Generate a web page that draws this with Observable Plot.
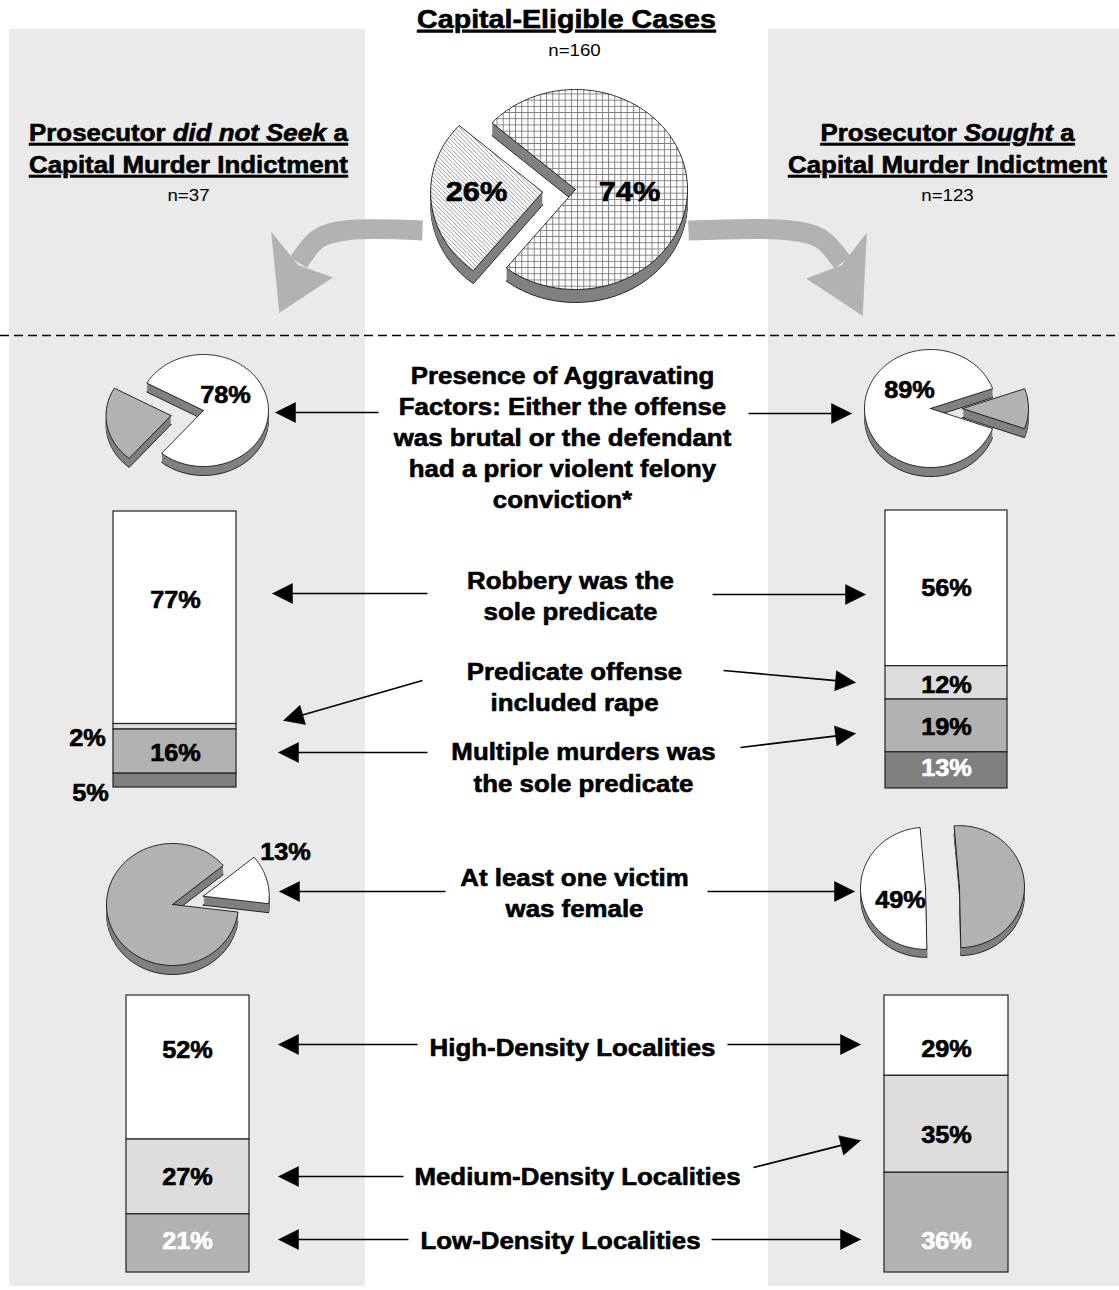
<!DOCTYPE html>
<html>
<head>
<meta charset="utf-8">
<script src="https://cdn.jsdelivr.net/npm/d3@7"></script>
<script src="https://cdn.jsdelivr.net/npm/@observablehq/plot@0.6"></script>
<style>
  body { margin: 0; background: #fff; }
  #chart svg { display: block; }
</style>
</head>
<body>
<div id="chart"></div>
<script>
// ---------------- DATA ----------------
const totalCases = 160;
const nNotSought = 37;
const nSought = 123;

const decisionLabels = ["Sought", "Did not seek"];
const decisionPct = [74, 26];

const aggravatingLabels = ["Aggravating factors present", "Not present"];
const aggravatingNotSought = [78, 22];
const aggravatingSought = [89, 11];

const predicateLabels = ["Robbery was the sole predicate", "Predicate offense included rape", "Multiple murders was the sole predicate", "Other"];
const predicateNotSought = [77, 2, 16, 5];
const predicateSought = [56, 12, 19, 13];

const femaleLabels = ["At least one victim was female", "No female victim"];
const femaleNotSought = [13, 87];
const femaleSought = [49, 51];

const densityLabels = ["High-Density Localities", "Medium-Density Localities", "Low-Density Localities"];
const densityNotSought = [52, 27, 21];
const densitySought = [29, 35, 36];

// ---------------- LAYOUT ----------------
const W = 1119, H = 1290, S = 1.1;
const FONT = "Liberation Sans, Arial, Helvetica, sans-serif";
const BG = "#eaeaea", WHITE = "#ffffff", LIGHT = "#dddddd", MID = "#b2b2b2", DARK = "#808080";
const BOLD_STROKE = 0.6;

const panels = [
  {x1: 9, x2: 365, y1: 29, y2: 1286},
  {x1: 768, x2: 1119, y1: 29, y2: 1286}
];

const pies = [
  {values: decisionPct, cx: 575, cy: 189, rx: 112, ry: 100, depth: 13, start: 311.8, explode: [0, 33], fills: ["url(#grid)", "url(#diag)"],
   labels: [{x: 629, y: 192}, {x: 476, y: 192}], size: 28},
  {values: aggravatingNotSought, cx: 203, cy: 410, rx: 65, ry: 56, depth: 9, start: 299.3, explode: [0, 33], fills: [WHITE, MID],
   labels: [{x: 225, y: 395}, null], size: 23},
  {values: aggravatingSought, cx: 930, cy: 408, rx: 66, ry: 59, depth: 9, start: 109.95, explode: [0, 32], fills: [WHITE, MID],
   labels: [{x: 909, y: 390}, null], size: 23},
  {values: femaleNotSought, cx: 172, cy: 904, rx: 66, ry: 61, depth: 9, start: 50.3, explode: [32, 0], fills: [WHITE, MID],
   labels: [{x: 285, y: 852}, null], size: 23},
  {values: femaleSought, cx: 942, cy: 887, rx: 65, ry: 61, depth: 8, start: 178.8, explode: [17, 17], fills: [WHITE, MID],
   labels: [{x: 900, y: 900}, null], size: 23}
];

const bars = [
  {values: predicateNotSought, x1: 113, x2: 236, y1: 511, y2: 787, fills: [WHITE, LIGHT, MID, DARK],
   labels: [{x: 175, y: 600}, {x: 87, y: 738}, {x: 175, y: 753}, {x: 90, y: 793}], colors: ["#000", "#000", "#000", "#000"]},
  {values: predicateSought, x1: 885, x2: 1007, y1: 510, y2: 788, fills: [WHITE, LIGHT, MID, DARK],
   labels: [{x: 946, y: 588}, {x: 946, y: 685}, {x: 946, y: 727}, {x: 946, y: 768}], colors: ["#000", "#000", "#000", "#fff"]},
  {values: densityNotSought, x1: 126, x2: 249, y1: 995, y2: 1272, fills: [WHITE, LIGHT, MID],
   labels: [{x: 187, y: 1050}, {x: 187, y: 1177}, {x: 187, y: 1241}], colors: ["#000", "#000", "#fff"]},
  {values: densitySought, x1: 884, x2: 1008, y1: 995, y2: 1272, fills: [WHITE, LIGHT, MID],
   labels: [{x: 946, y: 1049}, {x: 946, y: 1135}, {x: 946, y: 1241}], colors: ["#000", "#000", "#fff"]}
];

const centerLines = [
  {t: "Presence of Aggravating", x: 562, y: 376},
  {t: "Factors: Either the offense", x: 562, y: 407},
  {t: "was brutal or the defendant", x: 562, y: 438},
  {t: "had a prior violent felony", x: 562, y: 469},
  {t: "conviction*", x: 562, y: 500},
  {t: "Robbery was the", x: 570, y: 581},
  {t: "sole predicate", x: 570, y: 612},
  {t: "Predicate offense", x: 574, y: 672},
  {t: "included rape", x: 574, y: 703},
  {t: "Multiple murders was", x: 583, y: 752},
  {t: "the sole predicate", x: 583, y: 784},
  {t: "At least one victim", x: 574, y: 878},
  {t: "was female", x: 574, y: 909},
  {t: densityLabels[0], x: 572, y: 1048},
  {t: densityLabels[1], x: 577, y: 1177},
  {t: densityLabels[2], x: 560, y: 1241}
];

const thinArrows = [
  {x1: 378, y1: 412, x2: 275, y2: 412}, {x1: 748, y1: 413, x2: 851, y2: 413},
  {x1: 427, y1: 593, x2: 272, y2: 593}, {x1: 712, y1: 594, x2: 865, y2: 594},
  {x1: 422, y1: 680, x2: 283, y2: 720}, {x1: 723, y1: 670, x2: 855, y2: 682},
  {x1: 427, y1: 752, x2: 278, y2: 752}, {x1: 740, y1: 747, x2: 855, y2: 733},
  {x1: 445, y1: 891, x2: 279, y2: 891}, {x1: 707, y1: 891, x2: 854, y2: 891},
  {x1: 417, y1: 1044, x2: 278, y2: 1044}, {x1: 727, y1: 1044, x2: 860, y2: 1044},
  {x1: 403, y1: 1176, x2: 278, y2: 1176}, {x1: 753, y1: 1167, x2: 860, y2: 1140},
  {x1: 408, y1: 1239, x2: 278, y2: 1239}, {x1: 711, y1: 1239, x2: 860, y2: 1239}
];

const bigArrows = [
  {shaft: [[422, 230], [345, 230], [318, 238], [298, 262]],
   head: [[279, 312], [271, 232], [298, 265], [332, 277], [279, 312]]},
  {shaft: [[688, 230], [790, 230], [820, 238], [842, 262]],
   head: [[862, 315], [866, 233], [841, 265], [806, 278], [862, 315]]}
];

// ---------------- GEOMETRY ----------------
const rad = Math.PI / 180;
const rimRows = [], sideRows = [], faces = [], pieLabels = [];
pies.forEach((p, pi) => {
  const sum = d3.sum(p.values);
  let a = p.start;
  p.values.forEach((v, si) => {
    const span = v / sum * 360, a0 = a, a1 = a + span;
    a = a1;
    const mid = (a0 + a1) / 2 * rad, e = p.explode[si];
    const ox = e * Math.sin(mid), oy = -e * Math.cos(mid) * p.ry / p.rx;
    const pts = [[p.cx + ox, p.cy + oy]];
    const n = Math.max(3, Math.ceil(span / 2));
    for (let k = 0; k <= n; k++) {
      const t = (a0 + (a1 - a0) * k / n) * rad;
      pts.push([p.cx + ox + p.rx * Math.sin(t), p.cy + oy - p.ry * Math.cos(t)]);
    }
    pts.push(pts[0]);
    const id = `p${pi}s${si}`;
    for (let d = p.depth; d >= 1; d--) {
      const target = d === p.depth ? rimRows : sideRows;
      pts.forEach(([x, y]) => target.push({id: id + "d" + d, x, y: y + d}));
    }
    faces.push({pts, fill: p.fills[si]});
    if (p.labels[si]) pieLabels.push({...p.labels[si], t: v + "%", size: p.size});
  });
});

const barRects = [], barLabels = [];
bars.forEach(b => {
  const sum = d3.sum(b.values);
  const yScale = d3.scaleLinear([0, sum], [b.y1, b.y2]);
  let c = 0;
  b.values.forEach((v, i) => {
    barRects.push({x1: b.x1, x2: b.x2, y1: yScale(c), y2: yScale(c + v), fill: b.fills[i]});
    c += v;
    barLabels.push({...b.labels[i], t: v + "%", color: b.colors[i]});
  });
});

const shafts = [], heads = [];
thinArrows.forEach((a, i) => {
  const dx = a.x2 - a.x1, dy = a.y2 - a.y1, L = Math.hypot(dx, dy), ux = dx / L, uy = dy / L;
  const hl = 20, hw = 10, bx = a.x2 - ux * hl, by = a.y2 - uy * hl;
  shafts.push({x1: a.x1, y1: a.y1, x2: bx + ux * 3, y2: by + uy * 3});
  [[a.x2, a.y2], [bx - uy * hw, by + ux * hw], [bx + uy * hw, by - ux * hw], [a.x2, a.y2]]
    .forEach(([x, y]) => heads.push({id: i, x, y}));
});

const headerTexts = [
  {t: "Capital-Eligible Cases", x: 566, y: 19, size: 26, weight: "bold"},
  {t: "n=" + totalCases, x: 574, y: 50, size: 17, weight: "normal"},
  {t: "Prosecutor did not Seek a", x: 188, y: 133, size: 23.5, weight: "bold"},
  {t: "Capital Murder Indictment", x: 188, y: 165, size: 23.5, weight: "bold"},
  {t: "n=" + nNotSought, x: 188, y: 195, size: 17, weight: "normal"},
  {t: "Prosecutor Sought a", x: 947, y: 133, size: 23.5, weight: "bold"},
  {t: "Capital Murder Indictment", x: 947, y: 165, size: 23.5, weight: "bold"},
  {t: "n=" + nSought, x: 947, y: 195, size: 17, weight: "normal"}
];

// ---------------- MARKS ----------------
const marks = [];
marks.push(Plot.rect(panels, {x1: "x1", x2: "x2", y1: "y1", y2: "y2", fill: BG}));
marks.push(Plot.ruleY([{y: 335, x1: 0, x2: W}], {y: "y", x1: "x1", x2: "x2", stroke: "#000", strokeWidth: 1.4, strokeDasharray: "9,5"}));

bigArrows.forEach(b => {
  marks.push(Plot.line(b.shaft, {x: d => d[0], y: d => d[1], curve: "catmull-rom", stroke: MID, strokeWidth: 20, strokeLinecap: "butt", fill: "none"}));
  marks.push(Plot.line(b.head, {x: d => d[0], y: d => d[1], fill: MID, stroke: MID, strokeWidth: 0.5}));
});

marks.push(Plot.line(rimRows, {x: "x", y: "y", z: "id", fill: DARK, stroke: "#000", strokeWidth: 0.8}));
marks.push(Plot.line(sideRows, {x: "x", y: "y", z: "id", fill: DARK, stroke: "none"}));
faces.forEach(f => marks.push(Plot.line(f.pts, {x: d => d[0], y: d => d[1], fill: f.fill, stroke: "#000", strokeWidth: 0.8})));

marks.push(Plot.rect(barRects, {x1: "x1", x2: "x2", y1: "y1", y2: "y2", fill: "fill", stroke: "#222", strokeWidth: 1.2}));

marks.push(Plot.link(shafts, {x1: "x1", y1: "y1", x2: "x2", y2: "y2", stroke: "#000", strokeWidth: 1.7}));
marks.push(Plot.line(heads, {x: "x", y: "y", z: "id", fill: "#000", stroke: "#000", strokeWidth: 0.5}));

const boldText = (data, size, extra = {}) => Plot.text(data, {x: "x", y: "y", text: "t", fontSize: size, fontWeight: "bold", fontFamily: FONT,
  fill: "#000", stroke: "#000", strokeWidth: BOLD_STROKE, ...extra});

headerTexts.forEach(h => marks.push(h.weight === "bold"
  ? boldText([h], h.size)
  : Plot.text([h], {x: "x", y: "y", text: "t", fontSize: h.size, fontFamily: FONT, fill: "#000"})));
marks.push(boldText(centerLines, 23.5));
marks.push(boldText(pieLabels.filter(d => d.size > 24), 28));
marks.push(boldText(pieLabels.filter(d => d.size <= 24), 23));
marks.push(boldText(barLabels, 23, {fill: "color", stroke: "color"}));

const svg = Plot.plot({
  width: W, height: H, margin: 0,
  x: {domain: [0, W], range: [0, W], axis: null},
  y: {domain: [0, H], range: [0, H], axis: null},
  color: {type: "identity"},
  style: {background: "#fff", fontFamily: FONT},
  marks
});
document.getElementById("chart").append(svg);

// ---------------- PATTERNS & TEXT STYLING ----------------
const defs = d3.select(svg).insert("defs", ":first-child");
const grid = defs.append("pattern").attr("id", "grid").attr("patternUnits", "userSpaceOnUse").attr("width", 6.2).attr("height", 6.2);
grid.append("rect").attr("width", 6.2).attr("height", 6.2).attr("fill", "#fff");
grid.append("path").attr("d", "M0,0.5H6.2M0.5,0V6.2").attr("stroke", "#7a7a7a").attr("stroke-width", 0.9).attr("fill", "none");
const diag = defs.append("pattern").attr("id", "diag").attr("patternUnits", "userSpaceOnUse").attr("width", 4.2).attr("height", 4.2);
diag.append("rect").attr("width", 4.2).attr("height", 4.2).attr("fill", "#fff");
diag.append("path").attr("d", "M0,0L4.2,4.2M-1,3.2L1,5.2M3.2,-1L5.2,1").attr("stroke", "#7a7a7a").attr("stroke-width", 0.8).attr("fill", "none");

const underlined = new Set(["Capital-Eligible Cases", "Prosecutor did not Seek a", "Capital Murder Indictment", "Prosecutor Sought a"]);
const italics = {"Prosecutor did not Seek a": ["Prosecutor ", "did not Seek", " a"], "Prosecutor Sought a": ["Prosecutor ", "Sought", " a"]};
svg.querySelectorAll("text").forEach(el => {
  const txt = el.textContent;
  if (italics[txt]) {
    const [a, b, c] = italics[txt];
    el.textContent = "";
    el.append(document.createTextNode(a));
    const ts = document.createElementNS("http://www.w3.org/2000/svg", "tspan");
    ts.setAttribute("font-style", "italic");
    ts.textContent = b;
    el.append(ts);
    el.append(document.createTextNode(c));
  }
  if (underlined.has(txt)) el.style.textDecoration = "underline";
});
svg.querySelectorAll("text").forEach(el => {
  const len = el.getComputedTextLength();
  if (len > 0) {
    el.setAttribute("textLength", (len * S).toFixed(1));
    el.setAttribute("lengthAdjust", "spacingAndGlyphs");
  }
});
</script>
</body>
</html>
